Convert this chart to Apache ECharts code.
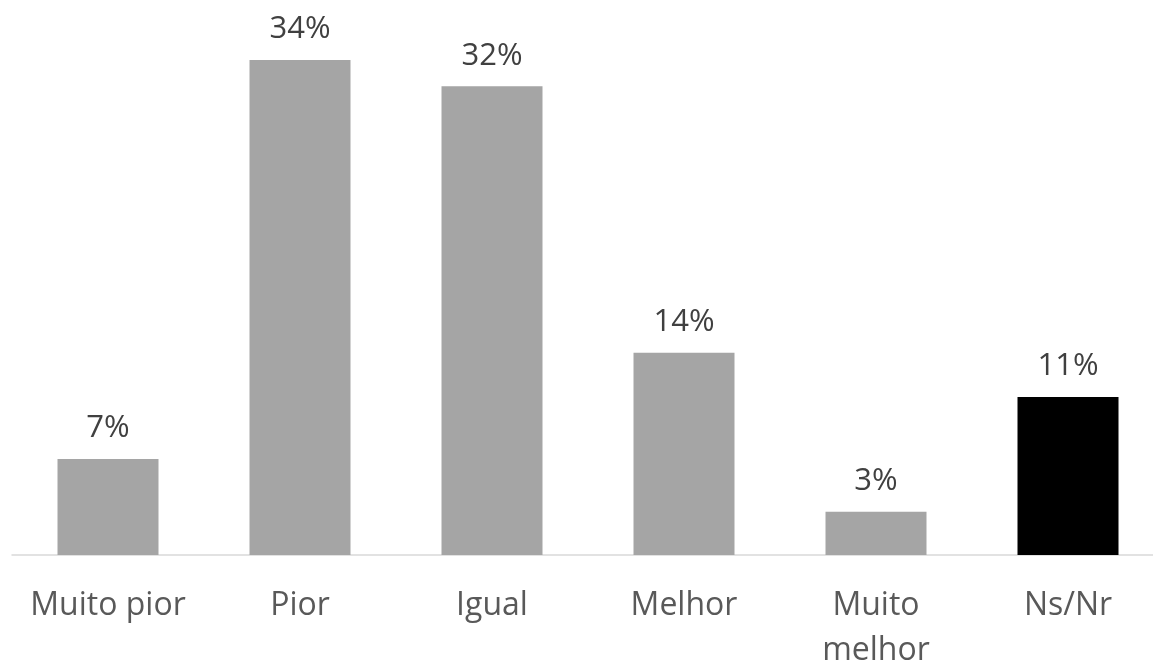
<!DOCTYPE html>
<html>
<head>
<meta charset="utf-8">
<script src="https://cdn.jsdelivr.net/npm/echarts@6/dist/echarts.min.js"></script>
<style>html,body{margin:0;padding:0;background:#fff}#c{width:1153px;height:664px}</style>
</head>
<body>
<div id="c"></div>
<script>
const categories = ['Muito pior', 'Pior', 'Igual', 'Melhor', 'Muito\nmelhor', 'Ns/Nr'];
const values = [6.6, 34, 32.2, 13.9, 2.97, 10.85];
const labels = ['7%', '34%', '32%', '14%', '3%', '11%'];
const colors = ['#a5a5a5', '#a5a5a5', '#a5a5a5', '#a5a5a5', '#a5a5a5', '#000000'];

const chart = echarts.init(document.getElementById('c'));
chart.setOption({
  animation: false,
  grid: { left: 12, top: 31, width: 1152, bottom: 109, containLabel: false, outerBoundsMode: 'none' },
  xAxis: {
    type: 'category',
    data: categories,
    axisLine: { lineStyle: { color: '#d9d9d9', width: 1.5 } },
    axisTick: { show: false },
    axisLabel: { color: '#595959', fontFamily: 'Open Sans', fontSize: 32, margin: 28, lineHeight: 45, interval: 0 }
  },
  yAxis: { type: 'value', min: 0, max: 36, show: false, splitLine: { show: false } },
  series: [{
    type: 'bar',
    barWidth: 101,
    data: values.map((v, i) => ({ value: v, itemStyle: { color: colors[i] } })),
    label: {
      show: true, position: 'top', distance: 15,
      color: '#404040', fontFamily: 'Open Sans', fontSize: 31,
      formatter: p => labels[p.dataIndex]
    }
  }]
});
</script>
</body>
</html>
